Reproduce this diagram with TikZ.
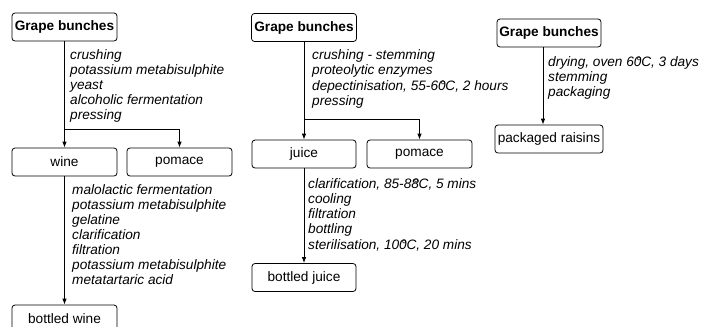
\documentclass[tikz,border=0pt]{standalone}
\usepackage{fontspec}
\setmainfont{Liberation Sans}
\usetikzlibrary{arrows.meta}
\newcommand\degov[1]{#1\kern-0.42em°}
\tikzset{
  box/.style={draw, rounded corners=3bp, line width=0.8bp, minimum height=28bp, inner sep=0pt, font=\fontsize{13.7}{15}\selectfont},
  boldbox/.style={box, font=\fontsize{13.7}{15}\selectfont\bfseries},
  steps/.style={anchor=north west, inner sep=0pt, align=left, font=\fontsize{13.7}{15}\selectfont\itshape},
  conn/.style={line width=0.8bp, -{Latex[length=6bp,width=4.5bp]}},
  plain/.style={line width=0.8bp}
}
\begin{document}
\begin{tikzpicture}[x=1bp,y=-1bp]
\useasboundingbox (0,0) rectangle (706,326);
% column 1: wine
\node[boldbox, minimum width=105bp] (g1) at (64.5,27) {Grape bunches};
\node[box, minimum width=105bp] (wine) at (64.5,162) {wine};
\node[box, minimum width=105bp] (pom1) at (179.5,162) {pomace};
\node[box, minimum width=105bp] (bw) at (64.5,319) {bottled wine};
\node[steps] (t1) at (70,49.5) {crushing\\potassium metabisulphite\\yeast\\alcoholic fermentation\\pressing};
\node[steps] (t2) at (72,184.5) {malolactic fermentation\\potassium metabisulphite\\gelatine\\clarification\\filtration\\potassium metabisulphite\\metatartaric acid};
\coordinate (b1) at (64.5,129);
\draw[conn] (g1.south) -- (wine.north);
\draw[conn] (b1) -| (pom1.north);
\draw[conn] (wine.south) -- (bw.north);
% column 2: juice
\node[boldbox, minimum width=105bp] (g2) at (304,27.5) {Grape bunches};
\node[box, minimum width=104bp] (juice) at (304,154) {juice};
\node[box, minimum width=105bp] (pom2) at (419.5,154) {pomace};
\node[box, minimum width=104bp] (bj) at (304,277.5) {bottled juice};
\node[steps] (t3) at (312,49.5) {crushing - stemming\\proteolytic enzymes\\[0.6bp]depectinisation, 55-6\degov{0}C, 2 hours\\pressing};
\node[steps] (t4) at (308,178.5) {clarification, 85-8\degov{8}C, 5 mins\\cooling\\filtration\\bottling\\[1.5bp]sterilisation, 10\degov{0}C, 20 mins};
\coordinate (b2) at (304,119);
\draw[conn] (g2.south) -- (juice.north);
\draw[conn] (b2) -| (pom2.north);
\draw[conn] (juice.south) -- (bj.north);
% column 3: raisins
\node[boldbox, minimum width=104bp] (g3) at (549,33) {Grape bunches};
\node[box, minimum width=108bp] (rais) at (549,139) {packaged raisins};
\node[steps] (t5) at (548,56.5) {drying, oven 6\degov{0}C, 3 days\\stemming\\packaging};
\draw[conn] ([xshift=-6bp]g3.south) -- ([xshift=-6bp]rais.north);
\end{tikzpicture}
\end{document}
